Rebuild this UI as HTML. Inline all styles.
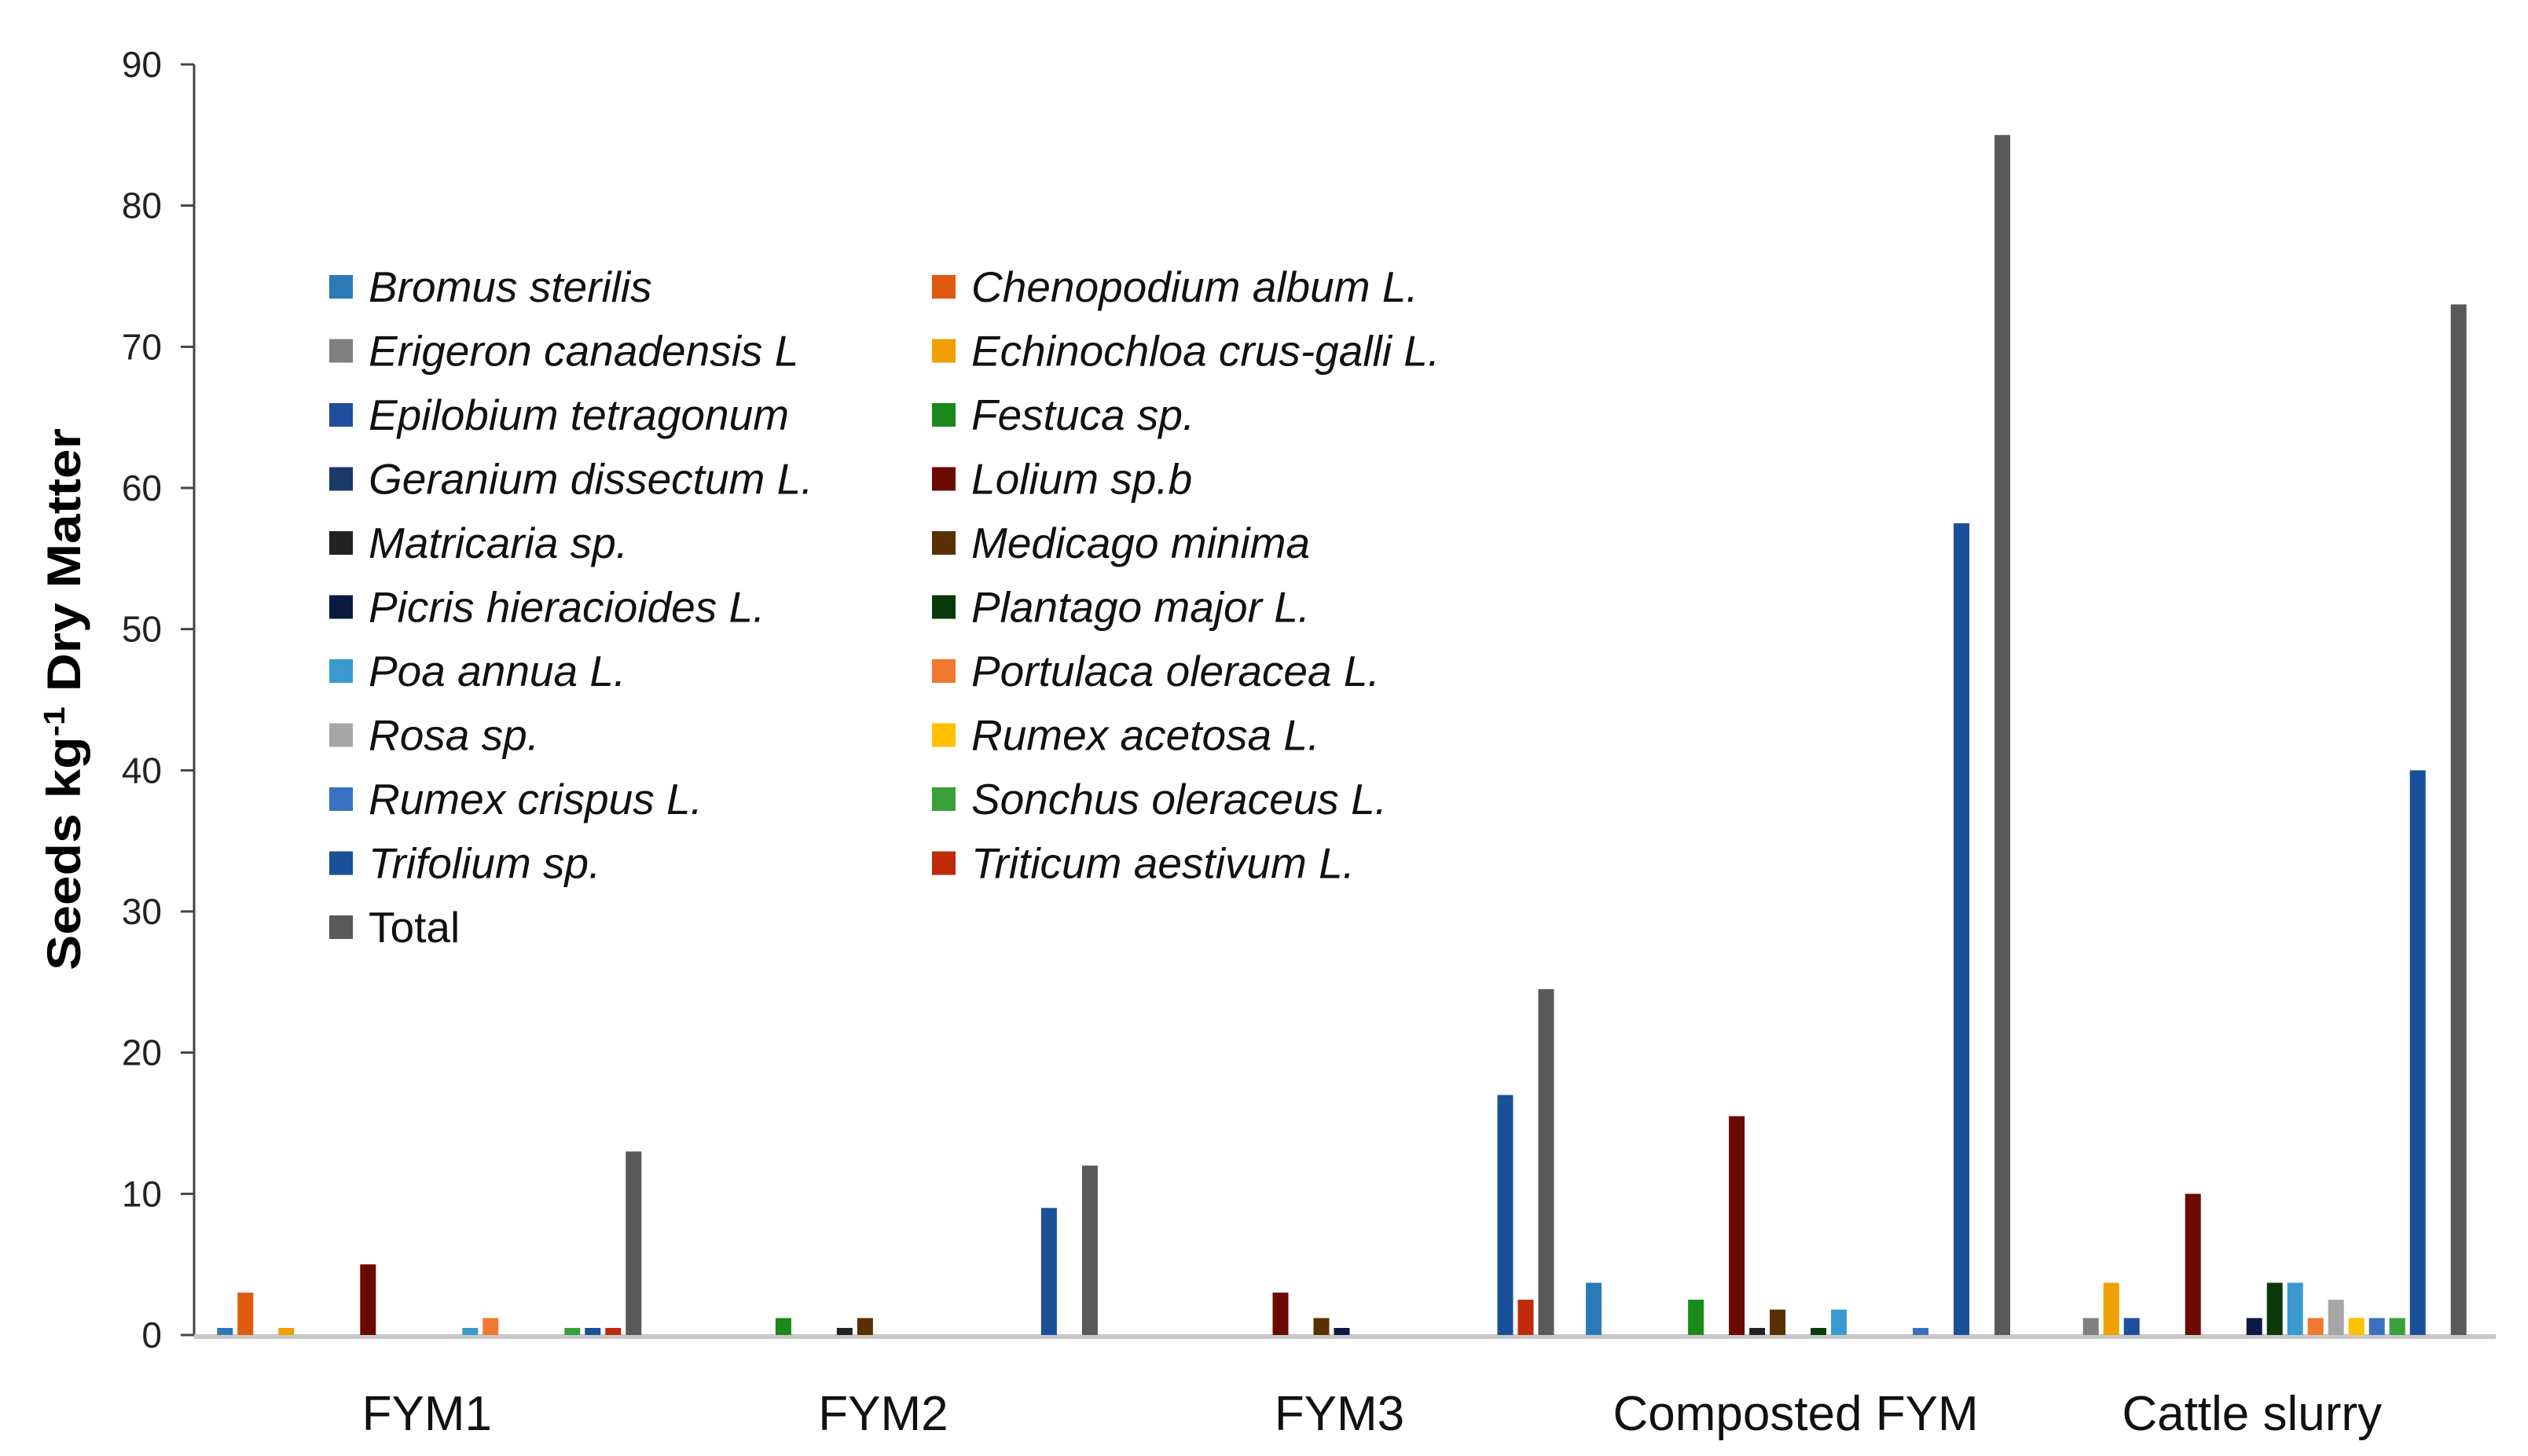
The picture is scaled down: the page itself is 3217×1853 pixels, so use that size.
<!DOCTYPE html>
<html><head><meta charset="utf-8"><style>
html,body{margin:0;padding:0;background:#fff;}
svg{display:block;font-family:"Liberation Sans",sans-serif;}
</style></head><body>
<svg id="chart" width="3217" height="1853" viewBox="0 0 3217 1853" xmlns="http://www.w3.org/2000/svg">
<rect width="3217" height="1853" fill="#fff"/>
<g id="grid"></g>
<g id="bars"></g>
<g id="legend"></g>
<text x="0" y="0" transform="translate(102,890) rotate(-90)" text-anchor="middle" font-size="60" font-weight="bold" fill="#000" textLength="690" lengthAdjust="spacingAndGlyphs">Seeds kg<tspan dy="-20" font-size="38">-1</tspan><tspan dy="20"> Dry Matter</tspan></text>
</svg>
<script>
const categories = ["FYM1","FYM2","FYM3","Composted FYM","Cattle slurry"];
const seriesNames = ["Bromus sterilis","Chenopodium album L.","Erigeron canadensis L","Echinochloa crus-galli L.","Epilobium tetragonum","Festuca sp.","Geranium dissectum L.","Lolium sp.b","Matricaria sp.","Medicago minima","Picris hieracioides L.","Plantago major L.","Poa annua L.","Portulaca oleracea L.","Rosa sp.","Rumex acetosa L.","Rumex crispus L.","Sonchus oleraceus L.","Trifolium sp.","Triticum aestivum L.","Total"];
const seriesColors = ["#2a7ab8","#e05a10","#808080","#f0a000","#1f4e9c","#1a8a1a","#1a3a6a","#6b0a00","#222222","#5a3000","#0a1a40","#0a3a0a","#3a9ad0","#f07830","#a6a6a6","#ffc000","#3a70c0","#3aa03a","#1a4f9a","#c02a0a","#595959"];
// values[series][category]
const values = [
 [0.5,0,0,3.7,0],
 [3,0,0,0,0],
 [0,0,0,0,1.2],
 [0.5,0,0,0,3.7],
 [0,0,0,0,1.2],
 [0,1.2,0,2.5,0],
 [0,0,0,0,0],
 [5,0,3,15.5,10],
 [0,0.5,0,0.5,0],
 [0,1.2,1.2,1.8,0],
 [0,0,0.5,0,1.2],
 [0,0,0,0.5,3.7],
 [0.5,0,0,1.8,3.7],
 [1.2,0,0,0,1.2],
 [0,0,0,0,2.5],
 [0,0,0,0,1.2],
 [0,0,0,0.5,1.2],
 [0.5,0,0,0,1.2],
 [0.5,9,17,57.5,40],
 [0.5,0,2.5,0,0],
 [13,12,24.5,85,73]
];
const yTicks = [0,10,20,30,40,50,60,70,80,90];

const NS="http://www.w3.org/2000/svg";
const X0=247, X1=3176, Y0=1699, Y90=82, YMAX=90;
function yScale(v){return Y0-(v/YMAX)*(Y0-Y90);}
const groupW=580.6, step=26, barW=20;
function xCenter(ci,si){return X0+groupW*(ci+0.5)+9+(si-(seriesNames.length-1)/2)*step;}
function mk(tag,attrs,parent){const e=document.createElementNS(NS,tag);for(const k in attrs)e.setAttribute(k,attrs[k]);parent.appendChild(e);return e;}

const grid=document.getElementById('grid');
const ax=mk('line',{x1:X0,y1:Y90,x2:X0,y2:Y0,stroke:'#444','stroke-width':3},grid);


const bl=mk('line',{x1:X0,y1:Y0+2,x2:X1,y2:Y0+2,stroke:'#c8c8c8','stroke-width':6},grid);


yTicks.forEach(t=>{
  const y=yScale(t);
  const tk=mk('line',{x1:X0-17,y1:y,x2:X0,y2:y,stroke:'#444','stroke-width':3},grid);
  
  
  const tx=mk('text',{x:206,y:y+16,'text-anchor':'end','font-size':46,fill:'#222'},grid);
  tx.textContent=t;
  
  
});
categories.forEach((c,ci)=>{
  const tx=mk('text',{x:X0+groupW*(ci+0.5)+6,y:1820,'text-anchor':'middle','font-size':62,fill:'#111'},grid);
  tx.textContent=c;
  
  
});
const bars=document.getElementById('bars');
values.forEach((arr,si)=>{
  arr.forEach((v,ci)=>{
    if(v<=0)return;
    const y=yScale(v);
    const r=mk('rect',{x:xCenter(ci,si)-barW/2,y:y,width:barW,height:Y0-y,fill:seriesColors[si]},bars);
    
    
  });
});
const lg=document.getElementById('legend');
seriesNames.forEach((n,i)=>{
  const col=i%2, row=Math.floor(i/2);
  const sx=col?1186:419, ty=365+row*81.5;
  const sq=mk('rect',{x:sx,y:ty-15,width:30,height:30,fill:seriesColors[i]},lg);
  
  
  const tx=mk('text',{x:sx+50,y:ty+19,'font-size':55,fill:'#111','font-style':n==='Total'?'normal':'italic'},lg);
  tx.textContent=n;
  
  
});
</script>
</body></html>
